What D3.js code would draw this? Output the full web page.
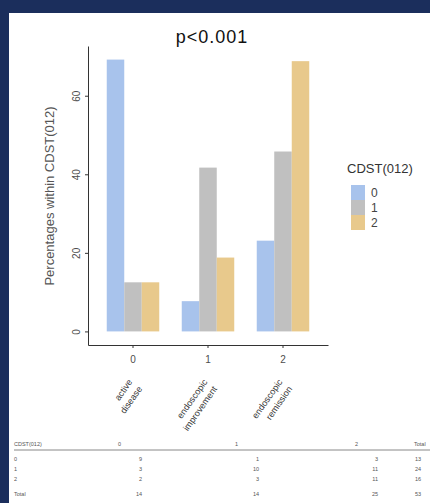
<!DOCTYPE html>
<html>
<head>
<meta charset="utf-8">
<script src="https://cdn.jsdelivr.net/npm/d3@7"></script>
<style>
  body { margin: 0; background: #1b2e5c; }
  svg { display: block; font-family: "Liberation Sans", Arial, sans-serif; }
</style>
</head>
<body>
<div class="vis"></div>
<script>
// x groups (outcome) and fill series (CDST(012))
const groups = ['0', '1', '2'];
const groupLabels = [['active', 'disease'], ['endoscopic', 'improvement'], ['endoscopic', 'remission']];
const series = ['0', '1', '2'];
const colors = ['#a8c3ec', '#c0c0c0', '#e8c98c'];

// percentages within CDST(012)
const pctCdst0 = [69.2, 7.7, 23.1];
const pctCdst1 = [12.5, 41.7, 45.8];
const pctCdst2 = [12.5, 18.8, 68.8];
const yTicks = [0, 20, 40, 60];

// cross table under the chart
const tableHeader = ['CDST(012)', '0', '1', '2', 'Total'];
const rowNames = ['0', '1', '2', 'Total'];
const countCol0 = [9, 3, 2, 14];
const countCol1 = [1, 10, 3, 14];
const countCol2 = [3, 11, 11, 25];
const countTotal = [13, 24, 16, 53];

const W = 430, H = 503;
const svg = d3.select('.vis').append('svg').attr('width', W).attr('height', H);

svg.append('rect').attr('width', W).attr('height', H).attr('fill', '#1b2e5c');
svg.append('rect').attr('x', 9).attr('y', 13).attr('width', W - 9).attr('height', H - 13).attr('fill', '#fff');

const pct = [pctCdst0, pctCdst1, pctCdst2];
const data = [];
groups.forEach((g, gi) => series.forEach((s, si) => data.push({group: g, series: s, value: pct[si][gi]})));

// ggplot-like expansion of the y range
const yMax = d3.max(data, d => d.value);
const y = d3.scaleLinear().domain([-0.05 * yMax, 1.05 * yMax]).range([345, 46]);
const x = d3.scaleBand().domain(groups).range([88, 328]).paddingInner(0.3).paddingOuter(0.25);
const xs = d3.scaleBand().domain(series).range([0, x.bandwidth()]);
const color = d3.scaleOrdinal().domain(series).range(colors);

svg.selectAll('.bar')
    .data(data)
    .enter().append('rect')
    .attr('class', 'bar')
    .attr('x', d => x(d.group) + xs(d.series))
    .attr('width', xs.bandwidth())
    .attr('y', d => y(d.value))
    .attr('height', d => y(0) - y(d.value))
    .attr('fill', d => color(d.series));

// y axis, labels turned upright like the original
const yAxis = svg.append('g')
    .attr('transform', 'translate(88,0)')
    .call(d3.axisLeft(y).tickValues(yTicks).tickSize(3).tickSizeOuter(0));
yAxis.selectAll('text')
    .attr('x', null).attr('dy', null)
    .attr('text-anchor', 'middle')
    .attr('transform', 'translate(-8,0) rotate(-90)');

// x axis
const xAxis = svg.append('g')
    .attr('transform', 'translate(0,345)')
    .call(d3.axisBottom(x).tickSize(3).tickSizeOuter(0).tickPadding(8));

[yAxis, xAxis].forEach(a => {
    a.select('.domain').attr('stroke', '#333');
    a.selectAll('line').attr('stroke', '#333');
    a.selectAll('text').attr('fill', '#4d4d4d').style('font-size', '10px');
});

// rotated category names below the ticks
groups.forEach((g, gi) => {
    const cx = x(g) + x.bandwidth() / 2;
    const t = svg.append('text')
        .attr('transform', 'translate(' + (cx - 6) + ',378) rotate(-55)')
        .attr('text-anchor', 'end')
        .attr('fill', '#333')
        .style('font-size', '9px');
    groupLabels[gi].forEach((line, li) => {
        t.append('tspan').attr('x', 0).attr('y', 7 + li * 12).text(line);
    });
});

// titles
svg.append('text')
    .attr('x', 212).attr('y', 43)
    .attr('text-anchor', 'middle')
    .attr('fill', '#111')
    .style('font-size', '18px')
    .style('letter-spacing', '1px')
    .text('p<0.001');

svg.append('text')
    .attr('transform', 'translate(54,196) rotate(-90)')
    .attr('text-anchor', 'middle')
    .attr('fill', '#555')
    .style('font-size', '13px')
    .text('Percentages within CDST(012)');

// legend
const legend = svg.append('g').attr('transform', 'translate(347,0)');
legend.append('text')
    .attr('x', 0).attr('y', 173)
    .attr('fill', '#333')
    .style('font-size', '13px')
    .text('CDST(012)');
series.forEach((s, i) => {
    legend.append('rect')
        .attr('x', 4).attr('y', 185 + i * 15)
        .attr('width', 14).attr('height', 15)
        .attr('fill', color(s));
    legend.append('text')
        .attr('x', 24).attr('y', 197 + i * 15)
        .attr('fill', '#444')
        .style('font-size', '12px')
        .text(s);
});

// table
const tbl = svg.append('g').attr('fill', '#555').style('font-size', '5.5px');
const headX = [14, 118, 235, 355, 414];
tableHeader.forEach((h, i) => {
    tbl.append('text').attr('x', headX[i]).attr('y', 446).text(h);
});
svg.append('line')
    .attr('x1', 14).attr('x2', W).attr('y1', 450).attr('y2', 450)
    .attr('stroke', '#888').attr('stroke-width', 1);
const rowY = [461, 471, 481, 496];
const cols = [countCol0, countCol1, countCol2];
const colRight = [142, 259, 378];
rowNames.forEach((r, ri) => {
    tbl.append('text').attr('x', 14).attr('y', rowY[ri]).text(r);
    cols.forEach((c, ci) => {
        tbl.append('text').attr('x', colRight[ci]).attr('y', rowY[ri])
            .attr('text-anchor', 'end').text(c[ri]);
    });
    tbl.append('text').attr('x', 415).attr('y', rowY[ri]).text(countTotal[ri]);
});
</script>
</body>
</html>
